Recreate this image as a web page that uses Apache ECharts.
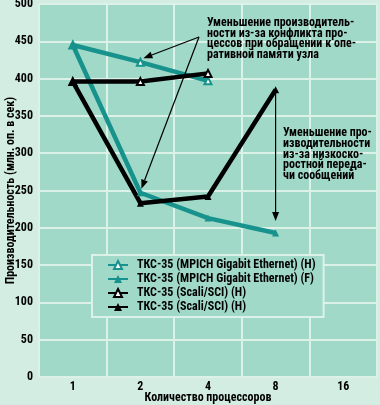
<!DOCTYPE html>
<html><head><meta charset="utf-8">
<script src="https://cdn.jsdelivr.net/npm/echarts@6/dist/echarts.min.js"></script>
<style>html,body{margin:0;padding:0;background:#d4ede3;}#c{width:380px;height:405px;}</style>
</head><body><div id="c"></div>
<script>
const categories = ['1','2','4','8','16'];
const tealH = [445, 422, 397, null, null];
const tealF = [445, 247, 213, 193, null];
const blackH1 = [396, 396, 407, null, null];
const blackH2 = [396, 233, 242, 385, null];
const names = ['ТКС-35 (MPICH Gigabit Ethernet) (H)','ТКС-35 (MPICH Gigabit Ethernet) (F)','ТКС-35 (Scali/SCI) (H)','ТКС-35 (Scali/SCI) (H)\u200b'];
const yTitle = 'Производительность (млн. оп. в сек)';
const xTitle = 'Количество процессоров';
const note1 = ['Уменьшение производитель-','ности из-за конфликта про-','цессов при обращении к опе-','ративной памяти узла'];
const note2 = ['Уменьшение про-','изводительности','из-за низкоско-','ростной переда-','чи сообщений'];

const FONT = '"Roboto Condensed","DejaVu Sans Condensed",sans-serif';
const TS = {color:'#000', fontWeight:'bold', fontSize:12, fontFamily:FONT};
const NS = {color:'#000', fontWeight:'bold', fontSize:12, fontFamily:FONT};
const TEAL = '#17928d';
const chart = echarts.init(document.getElementById('c'), null, {renderer:'canvas'});
function mk(name, data, color, hollow){
  return {name, type:'line', data, connectNulls:false, symbol:'triangle', symbolSize:7,
    lineStyle:{color, width:4.5}, itemStyle:{color: hollow?'#ffffff':color, borderColor:color, borderWidth: hollow?2:0},
    emphasis:{disabled:true}, z: 3};
}
const option = {
  animation:false,
  backgroundColor:'#d4ede3',
  textStyle:{fontFamily:FONT},
  grid:{left:39, right:3, top:4, bottom:28, show:true, backgroundColor:'#a0d9c7', borderWidth:0, containLabel:false, outerBoundsMode:'none'},
  xAxis:{type:'category', data:categories, boundaryGap:true,
    axisLine:{show:false}, axisTick:{show:false},
    splitLine:{show:true, interval:0, lineStyle:{color:'#dcf2e9', width:2}},
    axisLabel:Object.assign({margin:4}, TS),
    name:xTitle, nameLocation:'middle', nameGap:15, nameMoveOverlap:false,
    nameTextStyle:NS},
  yAxis:{type:'value', min:0, max:500, interval:50,
    axisLine:{show:false}, axisTick:{show:false},
    splitLine:{lineStyle:{color:'#dcf2e9', width:2}},
    axisLabel:Object.assign({margin:6}, TS),
    name:yTitle, nameLocation:'middle', nameGap:22, nameMoveOverlap:false,
    nameTextStyle:NS},
  legend:{orient:'vertical', left:92, top:255, width:225, height:61,
    backgroundColor:'#a0d9c7', borderColor:'#dcf2e9', borderWidth:2,
    padding:[4,8,4,15], itemGap:2, itemWidth:20, itemHeight:10,
    textStyle:Object.assign({lineHeight:12, padding:[0,0,0,4]}, TS),
    data:names},
  series:[
    mk(names[0], tealH, TEAL, true),
    mk(names[1], tealF, TEAL, false),
    mk(names[2], blackH1, '#000', true),
    mk(names[3], blackH2, '#000', false)
  ]
};
chart.setOption(option);

function arrow(from, to){
  const dx = to[0]-from[0], dy = to[1]-from[1];
  const L = Math.hypot(dx,dy), ux = dx/L, uy = dy/L;
  const hl = 9, hw = 3.5;
  const bx = to[0]-ux*hl, by = to[1]-uy*hl;
  return [
    {type:'polyline', shape:{points:[from,[bx,by]]}, style:{stroke:'#000', lineWidth:1.2, fill:null}, z:10},
    {type:'polygon', shape:{points:[to,[bx-uy*hw,by+ux*hw],[bx+uy*hw,by-ux*hw]]}, style:{fill:'#000'}, z:10}
  ];
}
const p = (ci, v) => chart.convertToPixel({gridIndex:0}, [ci, v]);
const a1 = p(1, tealH[1]); const a2 = p(1, tealF[1]); const a3 = p(3, blackH2[3]); const a3e = p(3, tealF[3]);
const origin = [199, 37];
const g = [];
g.push(...arrow(origin, [a1[0]+3, a1[1]-4]));
g.push(...arrow(origin, [a2[0]+1, a2[1]-4]));
g.push(...arrow([a3[0], a3[1]], [a3[0], a3e[1]-12]));
const NF = 'bold 12px ' + FONT;
g.push({type:'text', left:207, top:17, z:10, style:{text:note1.join('\n'), font:NF, lineHeight:10.6, fill:'#000'}});
g.push({type:'text', left:283, top:127, z:10, style:{text:note2.join('\n'), font:NF, lineHeight:10.8, fill:'#000'}});
chart.setOption({graphic:g});
</script></body></html>
